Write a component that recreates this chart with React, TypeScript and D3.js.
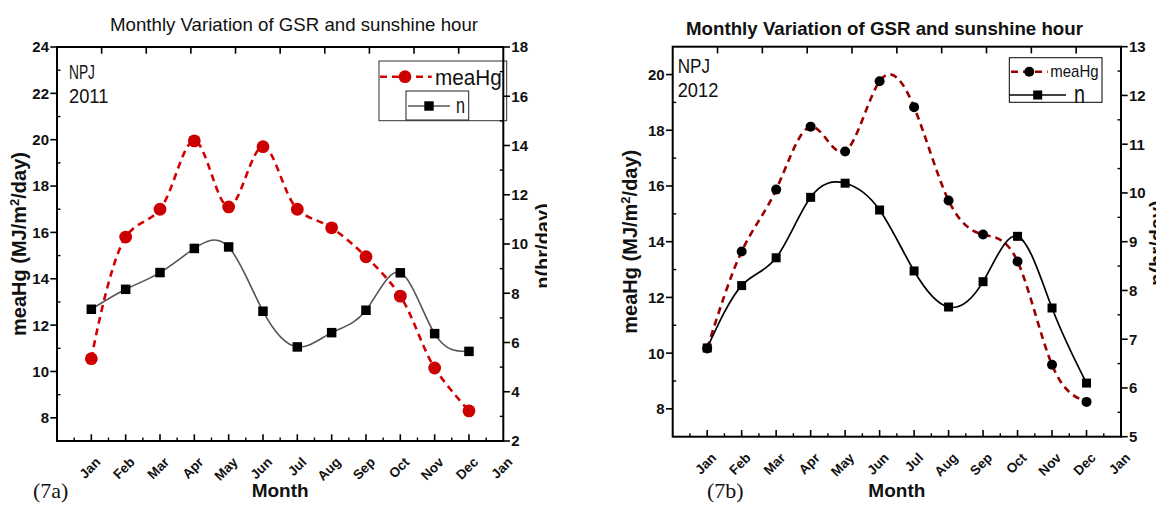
import React from "react";
import * as d3 from "d3";

// ---------- data ----------
const monthLabels = ["Jan", "Feb", "Mar", "Apr", "May", "Jun", "Jul", "Aug", "Sep", "Oct", "Nov", "Dec", "Jan"];
const meaHg2011 = [10.55, 15.8, 17.0, 19.95, 17.1, 19.7, 17.0, 16.2, 14.95, 13.25, 10.15, 8.3];
const n2011 = [7.35, 8.16, 8.84, 9.82, 9.88, 7.27, 5.82, 6.4, 7.31, 8.83, 6.36, 5.64];
const meaHg2012 = [10.17, 13.65, 15.87, 18.13, 17.24, 19.76, 18.83, 15.48, 14.26, 13.29, 9.58, 8.25];
const n2012 = [6.82, 8.1, 8.67, 9.91, 10.2, 9.65, 8.4, 7.66, 8.18, 9.11, 7.64, 6.1];

const leftTicks2011 = [8, 10, 12, 14, 16, 18, 20, 22, 24];
const rightTicks2011 = [2, 4, 6, 8, 10, 12, 14, 16, 18];
const leftTicks2012 = [8, 10, 12, 14, 16, 18, 20];
const rightTicks2012 = [5, 6, 7, 8, 9, 10, 11, 12, 13];

const FONT = "'Liberation Sans', Arial, sans-serif";
const SERIF = "'Liberation Serif', 'Times New Roman', serif";

type Cfg = {
  x0: number; x1: number; yTop: number; yBot: number;
  leftDomain: [number, number]; rightDomain: [number, number];
  leftTicks: number[]; rightTicks: number[];
  title: string; titleX: number; titleY: number; titleLen: number; titleBold: boolean;
  site: string; year: string; siteX: number; siteY: number; yearY: number; siteLen: number; yearLen: number; siteSize: number;
  meaColor: string; meaMarker: string; meaR: number; nColor: string; nSize: number; nWidth: number;
  meaCurve: d3.CurveFactory; nCurve: d3.CurveFactory;
  ylabX: number; rlabX: number; rlabY: number;
  tag: string; tagX: number;
  clipRight: number;
};

function Panel({ cfg, mea, nv, legend, id }: { cfg: Cfg; mea: number[]; nv: number[]; legend: React.ReactNode; id: string }) {
  const x = d3.scaleLinear().domain([0, 13]).range([cfg.x0, cfg.x1]);
  const yL = d3.scaleLinear().domain(cfg.leftDomain).range([cfg.yBot, cfg.yTop]);
  const yR = d3.scaleLinear().domain(cfg.rightDomain).range([cfg.yBot, cfg.yTop]);
  const lineMea = d3.line<number>().x((_, i) => x(i + 1)).y((d) => yL(d)).curve(cfg.meaCurve);
  const lineN = d3.line<number>().x((_, i) => x(i + 1)).y((d) => yR(d)).curve(cfg.nCurve);

  const lStep = cfg.leftTicks[1] - cfg.leftTicks[0];
  const rStep = cfg.rightTicks[1] - cfg.rightTicks[0];
  const leftMinor = cfg.leftTicks.map((t) => t + lStep / 2).filter((t) => t < cfg.leftDomain[1]);
  const rightMinor = cfg.rightTicks.map((t) => t + rStep / 2).filter((t) => t < cfg.rightDomain[1]);
  const topTicks = d3.range(1, 10).map((k) => cfg.x0 + (k * (cfg.x1 - cfg.x0)) / 10);
  const monthMajor = d3.range(1, 13);
  const monthMinor = d3.range(0.5, 13, 1);
  const major = 6.7, minor = 3.5;

  return (
    <g clipPath={`url(#${id})`}>
      <defs>
        <clipPath id={id}>
          <rect x={cfg.clipRight - 620} y={0} width={620} height={506} />
        </clipPath>
      </defs>
      {/* title */}
      <text x={cfg.titleX} y={cfg.titleY} fontFamily={FONT} fontSize={18.6} fontWeight={cfg.titleBold ? "bold" : "normal"}
        textLength={cfg.titleLen} lengthAdjust="spacingAndGlyphs" fill="#111">{cfg.title}</text>

      {/* series */}
      <path d={lineMea(mea) || ""} fill="none" stroke={cfg.meaColor} strokeWidth={2.6} strokeDasharray="7,5" />
      <path d={lineN(nv) || ""} fill="none" stroke={cfg.nColor} strokeWidth={cfg.nWidth} />
      {nv.map((d, i) => (
        <rect key={"s" + i} x={x(i + 1) - cfg.nSize / 2} y={yR(d) - cfg.nSize / 2} width={cfg.nSize} height={cfg.nSize} fill="#000" />
      ))}
      {mea.map((d, i) => (
        <circle key={"c" + i} cx={x(i + 1)} cy={yL(d)} r={cfg.meaR} fill={cfg.meaMarker} />
      ))}

      {legend}

      {/* frame */}
      <rect x={cfg.x0} y={cfg.yTop} width={cfg.x1 - cfg.x0} height={cfg.yBot - cfg.yTop} fill="none" stroke="#000" strokeWidth={2} />

      {/* left axis ticks */}
      {cfg.leftTicks.map((t) => (
        <g key={"lt" + t}>
          <line x1={cfg.x0 - major} x2={cfg.x0} y1={yL(t)} y2={yL(t)} stroke="#000" strokeWidth={1.6} />
          <text x={cfg.x0 - 8} y={yL(t)} dy="0.36em" textAnchor="end" fontFamily={FONT} fontWeight="bold" fontSize={15} fill="#111">{t}</text>
        </g>
      ))}
      {leftMinor.map((t) => (
        <line key={"lm" + t} x1={cfg.x0} x2={cfg.x0 + minor} y1={yL(t)} y2={yL(t)} stroke="#000" strokeWidth={1.4} />
      ))}
      {/* right axis ticks */}
      {cfg.rightTicks.map((t) => (
        <g key={"rt" + t}>
          <line x1={cfg.x1} x2={cfg.x1 + major} y1={yR(t)} y2={yR(t)} stroke="#000" strokeWidth={1.6} />
          <text x={cfg.x1 + 8} y={yR(t)} dy="0.36em" textAnchor="start" fontFamily={FONT} fontWeight="bold" fontSize={15} fill="#111">{t}</text>
        </g>
      ))}
      {rightMinor.map((t) => (
        <line key={"rm" + t} x1={cfg.x1 - minor} x2={cfg.x1} y1={yR(t)} y2={yR(t)} stroke="#000" strokeWidth={1.4} />
      ))}
      {/* top ticks */}
      {topTicks.map((tx, i) => (
        <line key={"tt" + i} x1={tx} x2={tx} y1={cfg.yTop} y2={cfg.yTop + major} stroke="#000" strokeWidth={1.6} />
      ))}
      {/* bottom ticks */}
      {monthMajor.map((m) => (
        <line key={"bm" + m} x1={x(m)} x2={x(m)} y1={cfg.yBot} y2={cfg.yBot - major} stroke="#000" strokeWidth={1.6} />
      ))}
      {monthMinor.map((m) => (
        <line key={"bn" + m} x1={x(m)} x2={x(m)} y1={cfg.yBot} y2={cfg.yBot - minor} stroke="#000" strokeWidth={1.4} />
      ))}
      {monthLabels.map((lab, i) => (
        <text key={"ml" + i} transform={`translate(${x(i + 1) + 10},${cfg.yBot + 22}) rotate(-45)`} textAnchor="end"
          fontFamily={FONT} fontWeight="bold" fontSize={13.5} fill="#111">{lab}</text>
      ))}

      {/* axis titles */}
      <text x={(cfg.x0 + cfg.x1) / 2} y={497} textAnchor="middle" fontFamily={FONT} fontWeight="bold" fontSize={19} fill="#111">Month</text>
      <text transform={`translate(${cfg.ylabX},${(cfg.yTop + cfg.yBot) / 2}) rotate(-90)`} textAnchor="middle"
        fontFamily={FONT} fontWeight="bold" fontSize={20} fill="#111">
        meaHg (MJ/m<tspan dy={-7} fontSize={13}>2</tspan><tspan dy={7}>/day)</tspan>
      </text>
      <text transform={`translate(${cfg.rlabX},${cfg.rlabY}) rotate(-90)`} textAnchor="middle"
        fontFamily={FONT} fontWeight="bold" fontSize={20} fill="#111">n(hr/day)</text>

      {/* site text */}
      <text x={cfg.siteX} y={cfg.siteY} fontFamily={FONT} fontSize={cfg.siteSize} textLength={cfg.siteLen} lengthAdjust="spacingAndGlyphs" fill="#111">{cfg.site}</text>
      <text x={cfg.siteX} y={cfg.yearY} fontFamily={FONT} fontSize={cfg.siteSize} textLength={cfg.yearLen} lengthAdjust="spacingAndGlyphs" fill="#111">{cfg.year}</text>

      <text x={cfg.tagX} y={497.5} fontFamily={SERIF} fontSize={22} fill="#111">{cfg.tag}</text>
    </g>
  );
}

const cfgA: Cfg = {
  x0: 57, x1: 503.3, yTop: 47, yBot: 441,
  leftDomain: [7, 24], rightDomain: [2, 18],
  leftTicks: leftTicks2011, rightTicks: rightTicks2011,
  title: "Monthly Variation of GSR and sunshine hour", titleX: 110, titleY: 30.5, titleLen: 368, titleBold: false,
  site: "NPJ", year: "2011", siteX: 69, siteY: 79.3, yearY: 103.3, siteLen: 26, yearLen: 39.3, siteSize: 20,
  meaColor: "#d40000", meaMarker: "#cc0000", meaR: 6.4, nColor: "#555555", nSize: 9.5, nWidth: 1.6,
  meaCurve: d3.curveCatmullRom.alpha(0.5), nCurve: d3.curveNatural,
  ylabX: 26, rlabX: 550, rlabY: 246,
  tag: "(7a)", tagX: 33, clipRight: 547,
};

const cfgB: Cfg = {
  x0: 672.7, x1: 1121, yTop: 46.7, yBot: 436.7,
  leftDomain: [7, 21], rightDomain: [5, 13],
  leftTicks: leftTicks2012, rightTicks: rightTicks2012,
  title: "Monthly Variation of GSR and sunshine hour", titleX: 686, titleY: 35, titleLen: 397, titleBold: true,
  site: "NPJ", year: "2012", siteX: 677.7, siteY: 73.3, yearY: 97.3, siteLen: 32.3, yearLen: 40.6, siteSize: 21,
  meaColor: "#9a0000", meaMarker: "#000000", meaR: 5, nColor: "#000000", nSize: 9, nWidth: 1.7,
  meaCurve: d3.curveNatural, nCurve: d3.curveNatural,
  ylabX: 637, rlabX: 1164, rlabY: 243,
  tag: "(7b)", tagX: 707, clipRight: 1156,
};

function LegendA() {
  return (
    <g>
      <rect x={379} y={61} width={127.7} height={59.7} fill="#fff" stroke="#333" strokeWidth={1} />
      <line x1={380} x2={431.7} y1={76.7} y2={76.7} stroke="#d40000" strokeWidth={2.6} strokeDasharray="7,5" />
      <circle cx={405} cy={76.7} r={6.4} fill="#cc0000" />
      <text x={435} y={85} fontFamily={FONT} fontSize={22} textLength={66.7} lengthAdjust="spacingAndGlyphs" fill="#111">meaHg</text>
      <rect x={406} y={91} width={62.7} height={29} fill="#fff" stroke="#222" strokeWidth={1} />
      <line x1={408} x2={450} y1={106} y2={106} stroke="#555" strokeWidth={1.6} />
      <rect x={424.3} y={101.3} width={9.4} height={9.4} fill="#000" />
      <text x={456} y={113.3} fontFamily={FONT} fontSize={22} textLength={9} lengthAdjust="spacingAndGlyphs" fill="#111">n</text>
    </g>
  );
}

function LegendB() {
  return (
    <g>
      <rect x={1009.3} y={57.7} width={92.7} height={44.6} fill="#fff" stroke="#000" strokeWidth={1} />
      <line x1={1011} x2={1047.7} y1={71.7} y2={71.7} stroke="#9a0000" strokeWidth={2.6} strokeDasharray="7,5" />
      <circle cx={1029.3} cy={71.7} r={5} fill="#000" />
      <text x={1050.3} y={77.3} fontFamily={FONT} fontSize={17} textLength={48.3} lengthAdjust="spacingAndGlyphs" fill="#111">meaHg</text>
      <line x1={1009.3} x2={1066} y1={95} y2={95} stroke="#000" strokeWidth={1.7} />
      <rect x={1033.2} y={90.5} width={9} height={9} fill="#000" />
      <text x={1074} y={103.3} fontFamily={FONT} fontSize={25} textLength={11} lengthAdjust="spacingAndGlyphs" fill="#111">n</text>
    </g>
  );
}

export default function App() {
  return (
    <svg width={1156} height={506} style={{ position: "absolute", left: 0, top: 0, background: "#fff" }}>
      <rect x={0} y={0} width={1156} height={506} fill="#fff" />
      <Panel cfg={cfgA} mea={meaHg2011} nv={n2011} legend={<LegendA />} id="clipA" />
      <Panel cfg={cfgB} mea={meaHg2012} nv={n2012} legend={<LegendB />} id="clipB" />
    </svg>
  );
}
